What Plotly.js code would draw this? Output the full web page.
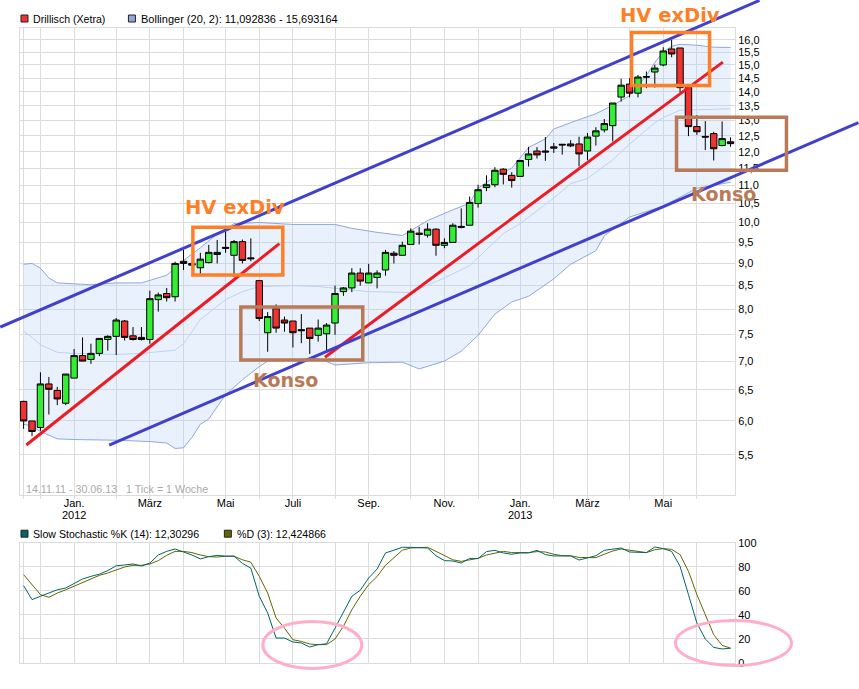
<!DOCTYPE html>
<html>
<head>
<meta charset="utf-8">
<script src="https://cdn.plot.ly/plotly-3.0.1.min.js"></script>
<style>html,body{margin:0;padding:0;background:#fff}</style>
</head>
<body>
<div id="chart" style="width:859px;height:689px"></div>
<script>
// Weekly candles, one per week (week 0 = 14.11.11)
const open  = [6.31,6.0,5.9,6.6,6.49,6.28,6.7,7.1,7.03,7.14,7.4,7.46,7.76,7.47,7.44,7.4,8.2,8.33,8.26,9.05,9.0,8.9,9.02,9.21,9.38,9.19,9.52,9.13,8.61,7.53,8.01,7.78,7.76,7.59,7.62,7.48,7.51,7.72,8.37,8.45,8.78,8.56,8.68,8.85,9.24,9.19,9.45,9.73,9.68,9.83,9.43,9.5,9.9,9.93,10.5,10.94,11.02,11.47,11.29,11.26,11.76,12.02,12.02,12.15,12.23,12.24,12.24,12.02,12.49,12.69,12.83,13.81,14.28,13.95,14.56,14.73,15.0,15.63,15.67,14.15,12.8,12.48,12.57,12.19,12.31];
const high  = [6.32,6.0,6.8,6.72,6.55,6.77,7.22,7.44,7.32,7.42,7.48,7.82,7.78,7.64,7.64,8.39,8.35,8.45,9.04,9.32,9.02,9.25,9.44,9.56,9.77,9.56,9.57,9.6,8.61,7.94,8.1,7.85,7.76,7.9,7.62,7.79,7.72,8.5,8.47,8.89,8.89,8.99,8.84,9.32,9.29,9.52,9.85,9.89,9.98,9.85,9.6,9.98,10.37,10.69,11.02,11.29,11.53,11.5,11.38,11.73,12.15,12.14,12.46,12.27,12.24,12.36,12.47,12.59,12.78,13.05,13.6,14.48,14.5,14.62,14.75,15.01,15.7,16.0,15.67,14.22,13.18,12.98,12.63,12.97,12.45];
const low   = [5.88,5.77,5.85,6.1,6.25,6.25,6.7,7.0,6.95,7.09,7.19,7.11,7.38,7.38,7.38,7.32,7.95,8.16,8.16,8.85,8.94,8.76,9.0,9.0,9.25,8.69,9.0,9.05,7.76,7.17,7.53,7.55,7.25,7.33,7.13,7.36,7.2,7.49,8.28,8.36,8.5,8.56,8.44,8.72,9.0,9.18,9.45,9.45,9.62,9.18,9.36,9.5,9.85,9.93,10.39,10.84,10.95,11.03,10.94,11.26,11.55,11.79,11.72,11.96,11.91,12.14,11.55,11.74,12.19,12.61,12.32,13.65,13.8,13.8,14.13,14.15,14.95,15.3,13.98,12.49,12.53,12.05,11.73,12.17,12.15];
const close = [6.0,5.84,6.6,6.51,6.35,6.77,7.1,7.0,7.14,7.42,7.46,7.78,7.44,7.4,7.4,8.22,8.3,8.24,9.0,9.0,8.96,9.1,9.26,9.26,9.36,9.52,9.07,9.11,7.81,7.85,7.62,7.72,7.53,7.57,7.42,7.62,7.68,8.33,8.45,8.78,8.6,8.78,8.78,9.26,9.19,9.43,9.78,9.7,9.83,9.43,9.5,9.93,9.88,10.53,10.88,11.02,11.44,11.32,11.14,11.73,11.93,11.9,11.99,12.11,12.21,12.18,11.93,12.46,12.66,12.9,13.6,14.24,13.95,14.54,14.54,14.88,15.55,15.43,14.15,12.8,12.63,12.46,12.09,12.41,12.25];

// Bollinger bands, read at the weeks where the curves bend
const upperWeek  = [0,1,2,3,4,6,8,11,14,17,18,19,21,23,25,28,32,37,39,42,45,46,48,51,53,54,56,58,60,62,63,65,68,70,72,74,75,76,77,78,80,82,84];
const upperBand  = [8.98,9.0,8.89,8.67,8.56,8.54,8.52,8.56,8.56,8.73,8.89,9.07,9.37,9.71,9.97,10.0,9.95,9.95,9.85,9.75,9.67,9.8,10.05,10.33,10.51,10.92,11.26,11.5,12.13,12.4,12.72,12.93,13.23,13.52,13.86,14.6,15.1,15.5,15.74,15.82,15.78,15.7,15.69];
const lowerWeek  = [0,1,2,4,6,11,15,17,18,19,20,21,22,23,24,26,28,29,32,35,37,41,45,47,50,52,54,56,58,60,63,65,68,69,72,76,80,84];
const lowerBand  = [5.95,5.92,5.84,5.73,5.72,5.71,5.69,5.67,5.59,5.6,5.75,5.95,6.03,6.23,6.42,6.67,6.9,7.0,7.02,7.05,6.93,6.97,6.98,6.86,7.0,7.18,7.48,7.9,8.15,8.27,8.65,8.98,9.3,9.66,10.14,10.43,10.92,11.09];
const middleWeek = [0,1,2,4,6,11,14,18,19,21,24,26,28,32,35,41,46,50,53,57,59,63,65,67,70,72,75,76,78,84];
const middleBand = [7.56,7.44,7.3,7.16,7.14,7.12,7.14,7.2,7.32,7.79,8.2,8.37,8.48,8.5,8.48,8.37,8.35,8.67,8.95,9.72,9.97,10.65,11.05,11.2,11.75,12.23,12.93,13.1,13.35,13.4];

// Slow stochastic, one value per week
const stochK = [64.4,52.8,55.6,58.3,61,62.5,66,70,72.2,74,77,81,81.7,82.5,80.8,83.3,90,93,95,92.5,90,86.7,88.6,89.7,89,89,83,79,55.6,41.7,20.8,20.8,17.5,16.7,13.3,15.3,16,29,41.7,55.6,60.6,70.8,78.3,91.7,94,96.4,96.4,95.8,95.8,89.4,85.3,85,83.3,87.2,87,92.8,93.9,91.7,90.6,91.7,91.7,93.9,90.3,89.2,89.2,89.2,85.8,87.8,89.4,93.9,95,95.8,92.5,92,92,96.7,95.3,93,80.6,57,33.3,20,13,11.7,12.3];
const stochD = [73.6,65.3,57,54.7,58.3,61,64,66.7,70,73,75,77.8,80,81.4,81.4,82.5,85.3,89.7,93,93,92,90,88.6,88.3,89,89,86,84,72.2,58.3,37.5,29,19.4,18,15.8,15.3,15.3,20,30.6,44.4,55.6,65.3,72,81.4,87.5,94,95.8,96.4,96.4,93,89.4,86,84.7,86,87.2,90,91.7,93,92,91.7,92,92.8,92.5,90.6,89.4,89.4,88,87.8,87.8,90.6,93.3,95,94,93.3,92,94.4,95.3,94.7,90.3,76.4,57,40.3,23.6,14.7,12.4];

// Hand-drawn trend lines: [week, price] end points
const blueUpperWeek = [-2.77,87.44], blueUpperPrice = [7.64,17.71];
const blueLowerWeek = [10.17,99.2],  blueLowerPrice = [5.64,12.93];
const redFirstWeek  = [0.32,30.39],  redFirstPrice  = [5.64,9.47];
const redSecondWeek = [35.81,83.09], redSecondPrice = [7.07,15.11];

// Axis ticks
const xTickWeeks = [0,2,6,11,15,19,24,28,32,37,41,46,50,54,59,63,67,72,76,80];
const xTickText  = ['','','Jan.','','März','','Mai','','Juli','','Sep.','','Nov.','','Jan.','','März','','Mai',''];
const yTickVals  = [5.5,6,6.5,7,7.5,8,8.5,9,9.5,10,10.5,11,11.5,12,12.5,13,13.5,14,14.5,15,15.5,16];
const yTickText  = ['5,5','6,0','6,5','7,0','7,5','8,0','8,5','9,0','9,5','10,0','10,5','11,0','11,5','12,0','12,5','13,0','13,5','14,0','14,5','15,0','15,5','16,0'];
const stochTicks = [0,20,40,60,80,100];

const weeks = open.map((_, i) => i);

// Page layout helpers
const PL = 20, PR = 735.5, PT = 27.5, PB = 663.5;
const px = v => (v - PL) / (PR - PL);
const py = v => (PB - v) / (PB - PT);

const FONT = 'Liberation Sans, Arial, sans-serif';
const GRID = '#dcdcdc';
const BAND = '#8fa8dc';
const XRANGE = [-0.43,84.53], YRANGE = [0.6950,1.2174], YDOMAIN = [0.264,1];

// The two long blue lines leave the plot area, so they go in as unclipped
// shapes, placed by the same week and log-price scales as the axes.
const weekToPaper  = w => (w - XRANGE[0]) / (XRANGE[1] - XRANGE[0]);
const priceToPaper = p => YDOMAIN[0] + (YDOMAIN[1] - YDOMAIN[0]) * (Math.log10(p) - YRANGE[0]) / (YRANGE[1] - YRANGE[0]);
const trendShape = (w, p) => ({type:'line', xref:'paper', yref:'paper', x0:weekToPaper(w[0]), x1:weekToPaper(w[1]), y0:priceToPaper(p[0]), y1:priceToPaper(p[1]), line:{color:'#4040cc',width:3}, layer:'above'});

const over = {xaxis:'x3', yaxis:'y3'};
const traces = [
  {type:'scatter', mode:'lines', x:lowerWeek, y:lowerBand, line:{color:BAND,width:1}, hoverinfo:'skip'},
  {type:'scatter', mode:'lines', x:upperWeek, y:upperBand, fill:'tonexty', fillcolor:'rgba(167,199,243,0.25)', line:{color:BAND,width:1}, hoverinfo:'skip'},
  {type:'scatter', mode:'lines', x:middleWeek, y:middleBand, line:{color:'#bdd2f6',width:1}, hoverinfo:'skip'},
  Object.assign({type:'candlestick', x:weeks, open:open, high:high, low:low, close:close, whiskerwidth:0,
    increasing:{line:{color:'#000',width:1}, fillcolor:'#33ee33'},
    decreasing:{line:{color:'#000',width:1}, fillcolor:'#ee3333'}}, over),
  Object.assign({type:'scatter', mode:'lines', x:redFirstWeek, y:redFirstPrice, line:{color:'#ed1c24',width:3}, hoverinfo:'skip'}, over),
  Object.assign({type:'scatter', mode:'lines', x:redSecondWeek, y:redSecondPrice, line:{color:'#ed1c24',width:3}, hoverinfo:'skip'}, over),
  {type:'scatter', mode:'lines', x:weeks, y:stochD, xaxis:'x2', yaxis:'y2', line:{color:'#666600',width:1}, hoverinfo:'skip'},
  {type:'scatter', mode:'lines', x:weeks, y:stochK, xaxis:'x2', yaxis:'y2', line:{color:'#006666',width:1}, hoverinfo:'skip'}
];

const box = (x0,y0,x1,y1,color) => ({type:'rect', xref:'paper', yref:'paper', x0:px(x0), x1:px(x1), y0:py(y0), y1:py(y1), line:{color:color,width:3.5}, fillcolor:'rgba(0,0,0,0)', layer:'above'});
const oval = (x0,y0,x1,y1) => ({type:'circle', xref:'paper', yref:'paper', x0:px(x0), x1:px(x1), y0:py(y0), y1:py(y1), line:{color:'#ffaec9',width:3}, fillcolor:'rgba(0,0,0,0)', layer:'above'});
const swatch = (x0,y0,color) => ({type:'rect', xref:'paper', yref:'paper', x0:px(x0), x1:px(x0+7), y0:py(y0), y1:py(y0+7), line:{color:'#222',width:1}, fillcolor:color, layer:'above'});

const label = (text,x,y,size,color,extra) => Object.assign({text:text, xref:'paper', yref:'paper', x:px(x), y:py(y), xanchor:'left', yanchor:'middle', showarrow:false, borderpad:0, font:{family:FONT,size:size,color:color}}, extra||{});
const BIG = 'DejaVu Sans, Verdana, sans-serif';
const big = (text,x,y,color,size) => label('<b>'+text+'</b>',x,y,size,color,{font:{family:BIG,size:size,color:color}});

const layout = {
  width:859, height:689, autosize:false, showlegend:false,
  paper_bgcolor:'#fff', plot_bgcolor:'#fff', dragmode:false, boxgap:0.24, boxgroupgap:0,
  margin:{l:PL, r:859-PR, t:PT, b:689-PB, pad:0},
  font:{family:FONT,size:11,color:'#000'},
  xaxis:{domain:[0,1], range:XRANGE, anchor:'y', tickmode:'array', tickvals:xTickWeeks, ticktext:xTickText, tickangle:0,
    gridcolor:GRID, gridwidth:1, showline:true, mirror:true, linecolor:GRID, linewidth:1, ticks:'outside', ticklen:3, tickcolor:GRID,
    ticklabelstandoff:-6, zeroline:false, tickfont:{family:FONT,size:11,color:'#000'}},
  yaxis:{domain:YDOMAIN, type:'log', range:YRANGE, side:'right', anchor:'x', tickmode:'array', tickvals:yTickVals, ticktext:yTickText,
    gridcolor:GRID, gridwidth:1, showline:true, mirror:true, linecolor:GRID, linewidth:1, ticks:'', zeroline:false, tickfont:{family:FONT,size:11,color:'#000'}},
  xaxis3:{overlaying:'x', domain:[0,1], range:XRANGE, anchor:'y3', visible:false, rangeslider:{visible:false}},
  yaxis3:{overlaying:'y', domain:YDOMAIN, type:'log', range:YRANGE, anchor:'x3', side:'right', visible:false},
  xaxis2:{domain:[0,1], range:XRANGE, anchor:'y2', tickmode:'array', tickvals:xTickWeeks, showticklabels:false,
    gridcolor:GRID, gridwidth:1, showline:true, mirror:true, linecolor:GRID, linewidth:1, ticks:'', zeroline:false},
  yaxis2:{domain:[0,0.189], range:[0,100], side:'right', anchor:'x2', tickmode:'array', tickvals:stochTicks,
    gridcolor:GRID, gridwidth:1, showline:true, mirror:true, linecolor:GRID, linewidth:1, ticks:'', zeroline:false, tickfont:{family:FONT,size:11,color:'#000'}},
  shapes:[
    trendShape(blueUpperWeek, blueUpperPrice),
    trendShape(blueLowerWeek, blueLowerPrice),
    box(193,227,283,275,'#ff7f27'),
    box(632,32,710,85,'#ff7f27'),
    box(241,307,363,360,'#b97a57'),
    box(677,117,787,170,'#b97a57'),
    oval(263,622,362,669),
    oval(676,621,792,666),
    swatch(21,14.5,'#ee3333'),
    swatch(128.5,14.5,'#8fa8dc'),
    swatch(21,530.5,'#006666'),
    swatch(224.5,530.5,'#666600')
  ],
  annotations:[
    label('Drillisch (Xetra)',32,18,10.6,'#000'),
    label('Bollinger (20, 2): 11,092836 - 15,693164',140,18,11,'#000'),
    label('Slow Stochastic %K (14): 12,30296',32,534,10.6,'#000'),
    label('%D (3): 12,424866',236,534,10.6,'#000'),
    label('14.11.11 - 30.06.13   1 Tick = 1 Woche',25,489,10.7,'#aaaaaa'),
    {text:'2012', xref:'x', yref:'paper', x:6, y:py(515.5), xanchor:'center', yanchor:'middle', showarrow:false, font:{family:FONT,size:11,color:'#000'}},
    {text:'2013', xref:'x', yref:'paper', x:59, y:py(515.5), xanchor:'center', yanchor:'middle', showarrow:false, font:{family:FONT,size:11,color:'#000'}},
    big('HV exDiv',184,207,'#ff7f27',19.5),
    big('HV exDiv',619,15,'#ff7f27',19.5),
    big('Konso',252,380,'#b97a57',19),
    big('Konso',690,194,'#b97a57',19)
  ]
};

Plotly.newPlot('chart', traces, layout, {staticPlot:true, displayModeBar:false});
</script>
</body>
</html>
